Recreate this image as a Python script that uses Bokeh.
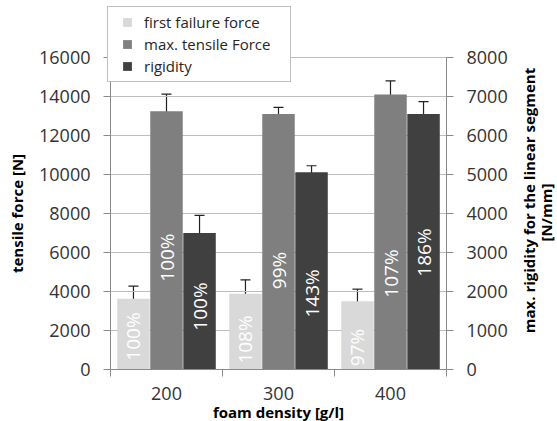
import numpy as np
from bokeh.plotting import figure
from bokeh.models import (Range1d, LinearAxis, FixedTicker, ColumnDataSource,
                          Whisker, TeeHead, Legend, LegendItem, Label)
from bokeh.core.properties import value
from bokeh.embed import file_html
from bokeh.resources import INLINE

# ---------------- data ----------------
categories = ["200", "300", "400"]
series_names = ["first failure force", "max. tensile Force", "rigidity"]

first_failure = [3630, 3880, 3500]
first_failure_err = [650, 720, 620]
max_tensile = [13250, 13100, 14100]
max_tensile_err = [870, 340, 700]
rigidity = [3500, 5060, 6550]          # right axis [N/mm]
rigidity_err = [450, 165, 320]

first_failure_pct = ["100%", "108%", "97%"]
max_tensile_pct = ["100%", "99%", "107%"]
rigidity_pct = ["100%", "143%", "186%"]

left_ticks = [0, 2000, 4000, 6000, 8000, 10000, 12000, 14000, 16000]
right_ticks = [0, 1000, 2000, 3000, 4000, 5000, 6000, 7000, 8000]

x_title = "foam density [g/l]"
left_title = "tensile force [N]"
right_title = ["max. rigidity for the linear segment", "[N/mm]"]

# label positions inside the bars (left-axis units)
first_failure_label_y = [1690, 1540, 1130]
max_tensile_label_y = [5740, 5080, 4920]
rigidity_label_y = [3230, 3900, 6000]

# ---------------- style / layout ----------------
FONT = "Open Sans"
COLORS = ["#d9d9d9", "#7f7f7f", "#404040"]
AXIS_COLOR = "#8a8a8a"
GRID_COLOR = "#bdbdbd"
TICK_TEXT = "#333333"

W, H = 557, 421
PX_LEFT, PX_RIGHT, PX_TOP, PX_BOTTOM = 110, 446, 57, 369   # plot area in px

n_cat = len(categories)
left_max = left_ticks[-1]
right_max = right_ticks[-1]
x_scale = (PX_RIGHT - PX_LEFT) / n_cat
yl_scale = (PX_BOTTOM - PX_TOP) / left_max
yr_scale = (PX_BOTTOM - PX_TOP) / right_max


def px_x(px):
    return (px - PX_LEFT) / x_scale


def px_y(py):
    return (PX_BOTTOM - py) / yl_scale


# the frame covers the whole canvas; axes are pinned with fixed_location
p = figure(width=W, height=H, output_backend="svg", toolbar_location=None,
           x_range=Range1d(px_x(0), px_x(W)),
           y_range=Range1d(px_y(H), px_y(0)),
           min_border=0, min_border_left=0, min_border_right=0,
           min_border_top=0, min_border_bottom=0,
           outline_line_color=None, background_fill_color="white",
           border_fill_color="white")
p.extra_y_ranges = {"rig": Range1d(-(H - PX_BOTTOM) / yr_scale,
                                   right_max + PX_TOP / yr_scale)}
p.xgrid.visible = False
p.ygrid.visible = False

# horizontal gridlines across the category span
p.segment(x0=0, x1=n_cat, y0=left_ticks, y1=left_ticks,
          line_color=GRID_COLOR, line_width=1)


def style_axis(ax):
    ax.axis_line_color = AXIS_COLOR
    ax.major_tick_line_color = AXIS_COLOR
    ax.minor_tick_line_color = None
    ax.major_tick_out = 7
    ax.major_tick_in = 0
    ax.major_label_text_font = FONT
    ax.major_label_text_font_size = "18px"
    ax.major_label_text_color = TICK_TEXT
    ax.axis_label_text_font = FONT
    ax.axis_label_text_font_size = "15px"
    ax.axis_label_text_font_style = "bold"
    ax.axis_label_text_color = "black"


# x axis: labels at category centres, tick marks at category boundaries
xax = p.xaxis[0]
style_axis(xax)
xax.fixed_location = 0
xax.bounds = (0, n_cat)
xax.ticker = FixedTicker(ticks=[i + 0.5 for i in range(n_cat)],
                         minor_ticks=list(range(n_cat + 1)))
xax.major_label_overrides = {i + 0.5: c for i, c in enumerate(categories)}
xax.major_tick_line_color = None
xax.minor_tick_line_color = AXIS_COLOR
xax.minor_tick_out = 7
xax.minor_tick_in = 0
xax.major_label_standoff = 10
xax.axis_label = x_title
xax.axis_label_standoff = -1

# left axis
yax = p.yaxis[0]
style_axis(yax)
yax.fixed_location = 0
yax.bounds = (0, left_max)
yax.ticker = FixedTicker(ticks=left_ticks)
yax.major_label_standoff = 13
yax.axis_label = left_title
yax.axis_label_standoff = 9

# right axis
rax = LinearAxis(y_range_name="rig", ticker=FixedTicker(ticks=right_ticks))
style_axis(rax)
rax.fixed_location = n_cat
rax.bounds = (0, right_max)
rax.major_label_standoff = 13
p.add_layout(rax, "right")

# right axis title (reads bottom to top, two lines)
p.add_layout(Label(x=px_x(528), y=px_y(200), text=right_title[0], angle=np.pi / 2,
                   text_align="center", text_baseline="middle", text_font=FONT,
                   text_font_size="15px", text_font_style="bold", text_color="black"))
p.add_layout(Label(x=px_x(545), y=px_y(212), text=right_title[1], angle=np.pi / 2,
                   text_align="center", text_baseline="middle", text_font=FONT,
                   text_font_size="15px", text_font_style="bold", text_color="black"))

# ---------------- bars ----------------
x_base = np.arange(n_cat) + 0.5
offsets = [-0.295, 0.0, 0.295]
values = [first_failure, max_tensile, rigidity]
errors = [first_failure_err, max_tensile_err, rigidity_err]
pcts = [first_failure_pct, max_tensile_pct, rigidity_pct]
label_ys = [first_failure_label_y, max_tensile_label_y, rigidity_label_y]
ranges = ["default", "default", "rig"]

legend_items = []
for k in range(3):
    xs = x_base + offsets[k]
    vals = np.array(values[k], dtype=float)
    errs = np.array(errors[k], dtype=float)
    src = ColumnDataSource(dict(x=xs, top=vals, upper=vals + errs, lower=vals - errs))
    p.vbar(x="x", top="top", bottom=0, width=0.29, source=src,
           fill_color=COLORS[k], line_color=None, y_range_name=ranges[k])
    wh = Whisker(source=src, base="x", upper="upper", lower="lower",
                 dimension="height", line_color="#222222", line_width=1.2,
                 upper_head=TeeHead(size=10, line_color="#222222", line_width=1.2),
                 lower_head=TeeHead(size=10, line_color="#222222", line_width=1.2),
                 y_range_name=ranges[k])
    p.add_layout(wh)
    p.text(x=xs, y=label_ys[k], text=pcts[k], angle=np.pi / 2,
           text_align="center", text_baseline="middle", text_color="white",
           text_font=value(FONT), text_font_size="19px")
    # legend-only square swatch (not drawn in the plot: NaN position)
    proxy = p.scatter(x=[np.nan], y=[np.nan], marker="square", size=9,
                      fill_color=COLORS[k], line_color=None)
    legend_items.append(LegendItem(label=series_names[k], renderers=[proxy]))

# legend box: left 107, bottom 82 (px from top-left of the canvas)
legend = Legend(items=legend_items, location=(107, H - 82), margin=0, padding=4,
                spacing=0, glyph_width=30, glyph_height=22, label_height=22,
                label_width=142, label_standoff=2,
                label_text_font=FONT, label_text_font_size="15px",
                label_text_color="#262626", border_line_color="#7f7f7f",
                border_line_width=1, background_fill_color="white",
                background_fill_alpha=1.0)
p.add_layout(legend)

open("out.html", "w").write(file_html(p, INLINE))
